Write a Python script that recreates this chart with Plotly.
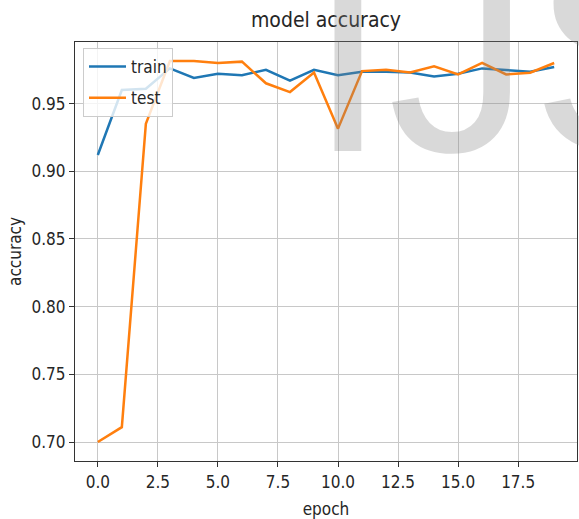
import plotly.graph_objects as go

epochs = list(range(20))
train_acc = [0.912, 0.960, 0.961, 0.976, 0.969, 0.972, 0.971, 0.975, 0.967, 0.975,
             0.971, 0.9735, 0.9735, 0.973, 0.970, 0.972, 0.976, 0.975, 0.9735, 0.977]
test_acc = [0.700, 0.711, 0.935, 0.9815, 0.9815, 0.980, 0.981, 0.965, 0.9585, 0.973,
            0.9315, 0.974, 0.975, 0.973, 0.9775, 0.9715, 0.980, 0.9715, 0.9728, 0.980]
series_names = ["train", "test"]
title_text = "model accuracy"
x_label = "epoch"
y_label = "accuracy"
watermark = "IJS"

FONT = "DejaVu Sans Condensed, Liberation Sans Narrow, DejaVu Sans, sans-serif"
W, H = 579, 519
L, R, T, B = 75, 2, 42, 58
pw, ph = W - L - R, H - T - B

fig = go.Figure()
fig.add_trace(go.Scatter(x=epochs, y=train_acc, mode="lines", name=series_names[0],
                         line=dict(color="#1f77b4", width=2.5), legendgroup="a"))
fig.add_trace(go.Scatter(x=epochs, y=test_acc, mode="lines", name=series_names[1],
                         line=dict(color="#ff7f0e", width=2.5), legendgroup="b"))

axis_common = dict(
    showgrid=True, gridcolor="#c8c8c8", gridwidth=1,
    showline=True, linecolor="#333333", linewidth=1.2, mirror=True,
    ticks="outside", ticklen=5, tickcolor="#333333", tickwidth=1,
    zeroline=False,
    tickfont=dict(family=FONT, size=17, color="#262626"),
)

fig.update_xaxes(range=[-0.95, 19.95], tick0=0, dtick=2.5, tickformat=".1f",
                 title=dict(text=x_label, font=dict(family=FONT, size=17, color="#262626"), standoff=13),
                 **axis_common)
fig.update_yaxes(range=[0.686, 0.9955], tick0=0.7, dtick=0.05, tickformat=".2f",
                 title=dict(text=y_label, font=dict(family=FONT, size=17, color="#262626"), standoff=5),
                 **axis_common)

fig.add_annotation(text=watermark, xref="paper", yref="paper",
                   x=(306 - L) / pw, y=1 - (214 - T) / ph,
                   xanchor="left", yanchor="bottom", showarrow=False,
                   font=dict(family="Liberation Sans, Arial, sans-serif", size=287,
                             color="rgba(128,128,128,0.3)"))

fig.update_layout(
    width=W, height=H,
    margin=dict(l=L, r=R, t=T, b=B),
    paper_bgcolor="white", plot_bgcolor="white",
    title=dict(text=title_text, x=(326) / W, xanchor="center", y=1 - 20 / H, yanchor="middle",
               font=dict(family=FONT, size=21, color="#262626")),
    legend=dict(x=(83 - L) / pw, y=1 - (48 - T) / ph, xanchor="left", yanchor="top",
                bgcolor="rgba(255,255,255,0.8)", bordercolor="#cccccc", borderwidth=1,
                font=dict(family=FONT, size=17, color="#262626"),
                traceorder="grouped", tracegroupgap=6, itemwidth=37),
    showlegend=True,
)

fig.write_html("out.html")
